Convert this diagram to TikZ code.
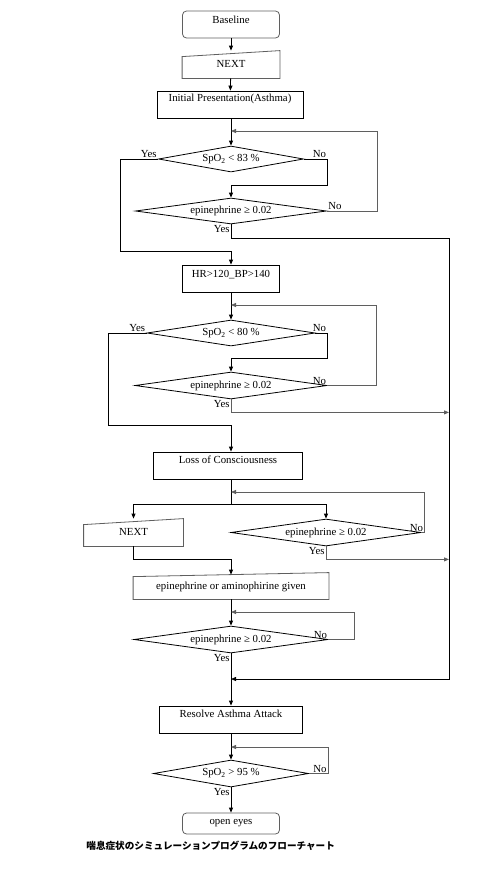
\documentclass[tikz,border=0pt]{standalone}
\usepackage{fontspec}
\setmainfont{Liberation Serif}
\newfontfamily\jpfont{Noto Sans CJK JP}
\definecolor{fcgray}{RGB}{95,95,95}
\usetikzlibrary{arrows.meta,shapes.geometric,calc}

\begin{document}
\begin{tikzpicture}[
  x=1pt,y=-1pt,
  line width=0.8pt,
  every node/.style={font=\fontsize{10.8}{12}\selectfont},
  procbox/.style={draw,rectangle,inner sep=0pt,minimum height=27pt,
                  text height=11pt,text depth=16pt},
  termbox/.style={draw=fcgray,rounded corners=4pt,inner sep=0pt,minimum width=97pt,
                  minimum height=27pt,text height=12pt,text depth=15pt},
  inbox/.style={inner sep=0pt,minimum height=27pt,text height=16pt,text depth=11pt},
  decision/.style={draw,diamond,aspect=7,inner sep=0pt,minimum height=26pt},
  lbl/.style={inner sep=1pt,text=black},
  arr/.style={-{Triangle[length=5pt,width=4pt]}},
  backarr/.style={-{Triangle[length=5pt,width=4pt]},fcgray},
]
  \useasboundingbox (0,0) rectangle (498,876);

  % Start
  \node[termbox] (base) at (231,24.5) {Baseline};
  \node[inbox,minimum width=97pt] (next1) at (231,64.5) {NEXT};
  \draw[fcgray] (next1.south west) -- ([yshift=-6pt]next1.north west)
    -- (next1.north east) -- (next1.south east) -- cycle;
  \node[procbox,minimum width=146pt,text height=10.5pt,text depth=16.5pt] (init) at (230,104.5)
    {Initial Presentation(Asthma)};

  % First check
  \coordinate (l1) at (231,131);
  \node[decision,minimum width=145pt] (d1) at (231,159) {SpO\textsubscript{2} < 83 \%};
  \coordinate (k1) at (231,185);
  \node[decision,minimum width=191pt] (d2) at (231,211) {epinephrine ≥ 0.02};
  \coordinate (j1) at (231,251);

  % Second check
  \node[procbox,minimum width=97pt,text height=12pt,text depth=15pt] (hr) at (231,278.5)
    {HR>120\_BP>140};
  \coordinate (l2) at (231,305);
  \node[decision,minimum width=168pt] (d3) at (231,333) {SpO\textsubscript{2} < 80 \%};
  \coordinate (k2) at (231,358);
  \node[decision,minimum width=192pt,minimum height=27pt] (d4) at (231,385.5) {epinephrine ≥ 0.02};
  \coordinate (j2) at (231,425);

  % Loss of consciousness
  \node[procbox,minimum width=149pt] (loc) at (228,465.5) {Loss of Consciousness};
  \coordinate (l3) at (231,492);
  \coordinate (j3) at (231,504);
  \node[inbox,minimum width=99pt] (next2) at (133.5,532.5) {NEXT};
  \draw[fcgray] (next2.south west) -- ([yshift=-6pt]next2.north west)
    -- (next2.north east) -- (next2.south east) -- cycle;
  \node[decision,minimum width=190pt,minimum height=27pt] (d5) at (326,532.5) {epinephrine ≥ 0.02};
  \coordinate (j4) at (231,559);
  \node[inbox,minimum width=195pt,minimum height=26pt,text height=16pt,text depth=10pt] (epi)
    at (231,586) {epinephrine or aminophirine given};
  \draw[fcgray] (epi.south west) -- ([yshift=-4pt]epi.north west)
    -- (epi.north east) -- (epi.south east) -- cycle;
  \coordinate (l4) at (231,612);
  \node[decision,minimum width=194pt,minimum height=27pt] (d6) at (231,639.5) {epinephrine ≥ 0.02};

  % Resolve
  \coordinate (jres) at (231,679);
  \coordinate (rb) at (449,679);
  \node[procbox,minimum width=143pt] (res) at (231,719.5) {Resolve Asthma Attack};
  \coordinate (l5) at (231,747);
  \node[decision,minimum width=155pt,minimum height=27pt] (d7) at (231,773.5) {SpO\textsubscript{2} > 95 \%};
  \node[termbox,minimum height=21pt,text height=11pt,text depth=10pt] (eyes) at (231,823.5) {open eyes};

  % Caption
  \node[font=\jpfont\bfseries\fontsize{9.6}{11}\selectfont,anchor=west,inner sep=0pt] (cap)
    at (86,846) {喘息症状のシミュレーションプログラムのフローチャート};

  % Arrows
  \draw[arr] (base) -- (next1);
  \draw[arr] (next1) -- (init);
  \draw[arr] (init.south -| l1) -- (d1.north);
  \draw (d1.west) node[lbl,above left]{Yes} -- ++(-38,0) |- (j1);
  \draw (d1.east) -- ++(23.5,0) node[lbl,above left]{No} |- (k1);
  \draw[arr] (k1) -- (d2.north);
  \draw[backarr] (d2.east) node[lbl,above right]{No} -- ++(50,0) |- (l1);
  \draw[arr] (d2.south) node[lbl,below left]{Yes} -- ++(0,14) -| (rb) -- (jres);
  \draw[arr] (j1) -- (hr.north);

  \draw[arr] (hr) -- (d3);
  \draw (d3.west) node[lbl,above left]{Yes} -- ++(-38,0) |- (j2);
  \draw (d3.east) -- ++(12,0) node[lbl,above left]{No} |- (k2);
  \draw[arr] (k2) -- (d4.north);
  \draw[backarr] (d4.east) node[lbl,above left]{No} -- ++(49,0) |- (l2);
  \draw[backarr] (d4.south) node[lbl,below left]{Yes} -- ++(0,13) coordinate (t4) -- (t4 -| rb);
  \draw[arr] (j2) -- (j2 |- loc.north);

  \draw (loc.south -| j3) -- (j3);
  \draw[arr] (j3) -| (next2.north);
  \draw[arr] (j3) -| (d5.north);
  \draw[backarr] (d5.east) -- ++(3,0) node[lbl,above left]{No} |- (l3);
  \draw[backarr] (d5.south) node[lbl,below left]{Yes} -- ++(0,13) coordinate (t5) -- (t5 -| rb);
  \draw (next2.south) |- (j4);
  \draw[arr] (j4) -- ([yshift=-2pt]epi.north);

  \draw[arr] (epi) -- (d6);
  \draw[backarr] (d6.east) node[lbl,above left]{No} -- ++(26,0) |- (l4);
  \draw[arr] (d6.south) node[lbl,below left]{Yes} -- (res);

  \draw[arr] (res) -- (d7);
  \draw[backarr] (d7.east) -- ++(19,0) node[lbl,above left]{No} |- (l5);
  \draw[arr] (d7.south) node[lbl,below left]{Yes} -- (eyes);
\end{tikzpicture}
\end{document}
